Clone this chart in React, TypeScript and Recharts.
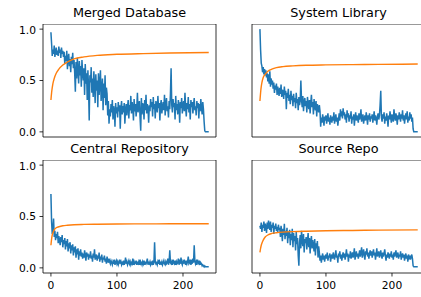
import { Line, LineChart, ReferenceArea, XAxis, YAxis } from "recharts";

const titles = ["Merged Database", "System Library", "Central Repository", "Source Repo"];

// blue series, one value per step 0..239
const mergedDb = [
  0.97, 0.86, 0.74, 0.8, 0.76, 0.84, 0.73, 0.78, 0.82, 0.75,
  0.79, 0.74, 0.83, 0.77, 0.8, 0.72, 0.82, 0.76, 0.79, 0.73,
  0.78, 0.66, 0.74, 0.69, 0.79, 0.61, 0.72, 0.76, 0.64, 0.71,
  0.58, 0.73, 0.66, 0.77, 0.62, 0.7, 0.57, 0.39, 0.68, 0.52,
  0.72, 0.6, 0.47, 0.69, 0.55, 0.64, 0.44, 0.7, 0.58, 0.5,
  0.62, 0.36, 0.66, 0.47, 0.57, 0.31, 0.6, 0.42, 0.11, 0.55,
  0.48, 0.63, 0.38, 0.52, 0.34, 0.59, 0.45, 0.28, 0.56, 0.4,
  0.5, 0.24, 0.57, 0.36, 0.46, 0.6, 0.3, 0.41, 0.52, 0.21,
  0.47, 0.33, 0.55, 0.26, 0.43, 0.37, 0.16, 0.3, 0.08, 0.22,
  0.15, 0.27, 0.19, 0.31, 0.12, 0.25, 0.21, 0.05, 0.28, 0.18,
  0.24, 0.14, 0.29, 0.2, 0.26, 0.03, 0.23, 0.3, 0.17, 0.25,
  0.19, 0.28, 0.08, 0.22, 0.27, 0.16, 0.24, 0.31, 0.13, 0.26,
  0.21, 0.35, 0.18, 0.29, 0.24, 0.11, 0.32, 0.2, 0.27, 0.15,
  0.23, 0.38, 0.19, 0.26, 0.3, 0.14, 0.01, 0.33, 0.17, 0.28,
  0.25, 0.12, 0.31, 0.21, 0.36, 0.18, 0.27, 0.23, 0.09, 0.26,
  0.2, 0.32, 0.24, 0.29, 0.15, 0.34, 0.22, 0.27, 0.13, 0.3,
  0.25, 0.19, 0.35, 0.23, 0.28, 0.11, 0.26, 0.31, 0.18, 0.24,
  0.29, 0.21, 0.36, 0.16, 0.27, 0.33, 0.2, 0.25, 0.14, 0.3,
  0.22, 0.37, 0.62, 0.26, 0.19, 0.32, 0.24, 0.28, 0.12, 0.35,
  0.21, 0.27, 0.17, 0.31, 0.25, 0.09, 0.29, 0.23, 0.33, 0.18,
  0.26, 0.3, 0.2, 0.38, 0.24, 0.15, 0.28, 0.22, 0.34, 0.19,
  0.27, 0.12, 0.31, 0.24, 0.29, 0.18, 0.26, 0.33, 0.21, 0.25,
  0.16, 0.3, 0.23, 0.28, 0.13, 0.27, 0.2, 0.32, 0.24, 0.17,
  0.29, 0.22, 0.1, 0.01, 0.0, 0.0, 0.0, 0.0, 0.0, 0.0,
];

const systemLib = [
  1.0, 0.8, 0.67, 0.64, 0.58, 0.63, 0.56, 0.61, 0.55, 0.6,
  0.53, 0.57, 0.49, 0.56, 0.47, 0.59, 0.44, 0.52, 0.46, 0.5,
  0.42, 0.48, 0.38, 0.45, 0.41, 0.47, 0.36, 0.44, 0.4, 0.35,
  0.43, 0.37, 0.46, 0.34, 0.41, 0.39, 0.32, 0.44, 0.36, 0.4,
  0.22, 0.38, 0.33, 0.42, 0.3, 0.36, 0.27, 0.4, 0.31, 0.35,
  0.25, 0.37, 0.29, 0.33, 0.23, 0.38, 0.28, 0.32, 0.21, 0.34,
  0.26, 0.3, 0.5, 0.31, 0.24, 0.35, 0.2, 0.29, 0.33, 0.25,
  0.3, 0.19, 0.34, 0.27, 0.22, 0.31, 0.18, 0.28, 0.36, 0.24,
  0.29, 0.17, 0.32, 0.25, 0.21, 0.3, 0.15, 0.27, 0.23, 0.19,
  0.26, 0.2, 0.05, 0.14, 0.09, 0.17, 0.12, 0.06, 0.15, 0.11,
  0.16, 0.08, 0.13, 0.18, 0.1, 0.14, 0.07, 0.16, 0.12, 0.09,
  0.15, 0.11, 0.19, 0.08, 0.13, 0.17, 0.1, 0.14, 0.06, 0.12,
  0.18, 0.11, 0.22, 0.15, 0.2, 0.13, 0.23, 0.16, 0.19, 0.12,
  0.17, 0.09, 0.21, 0.14, 0.18, 0.1, 0.16, 0.13, 0.2, 0.08,
  0.15, 0.12, 0.17, 0.06, 0.14, 0.19, 0.11, 0.16, 0.13, 0.09,
  0.18, 0.12, 0.15, 0.22, 0.1, 0.14, 0.17, 0.08, 0.13, 0.16,
  0.11, 0.19, 0.14, 0.07, 0.16, 0.12, 0.18, 0.1, 0.15, 0.13,
  0.17, 0.09, 0.14, 0.2, 0.11, 0.16, 0.13, 0.07, 0.15, 0.18,
  0.12, 0.16, 0.26, 0.4, 0.14, 0.1, 0.17, 0.13, 0.19, 0.08,
  0.15, 0.11, 0.18, 0.13, 0.05, 0.16, 0.12, 0.2, 0.14, 0.09,
  0.17, 0.13, 0.1, 0.22, 0.15, 0.11, 0.18, 0.14, 0.07, 0.16,
  0.12, 0.19, 0.15, 0.1, 0.17, 0.13, 0.21, 0.11, 0.16, 0.08,
  0.14, 0.18, 0.12, 0.2, 0.09, 0.15, 0.11, 0.19, 0.13, 0.17,
  0.1, 0.14, 0.03, 0.0, 0.0, 0.0, 0.0, 0.0, 0.0, 0.0,
];

const centralRepo = [
  0.72, 0.45, 0.33, 0.38, 0.48, 0.3, 0.36, 0.27, 0.33, 0.29,
  0.35, 0.24, 0.31, 0.27, 0.22, 0.3, 0.25, 0.32, 0.2, 0.27,
  0.23, 0.29, 0.18, 0.26, 0.21, 0.28, 0.16, 0.24, 0.19, 0.25,
  0.14, 0.22, 0.17, 0.23, 0.12, 0.2, 0.15, 0.21, 0.1, 0.18,
  0.13, 0.19, 0.08, 0.16, 0.12, 0.18, 0.11, 0.15, 0.09, 0.14,
  0.1, 0.17, 0.12, 0.07, 0.15, 0.11, 0.14, 0.08, 0.13, 0.1,
  0.16, 0.09, 0.12, 0.06, 0.14, 0.1, 0.18, 0.08, 0.11, 0.13,
  0.07, 0.12, 0.09, 0.15, 0.06, 0.11, 0.08, 0.13, 0.05, 0.1,
  0.08, 0.12, 0.06, 0.09, 0.04, 0.11, 0.07, 0.05, 0.09, 0.06,
  0.04, 0.07, 0.05, 0.03, 0.06, 0.04, 0.08, 0.03, 0.05, 0.07,
  0.04, 0.06, 0.03, 0.05, 0.08, 0.04, 0.06, 0.03, 0.05, 0.04,
  0.07, 0.03, 0.05, 0.1, 0.04, 0.06, 0.03, 0.05, 0.07, 0.04,
  0.06, 0.03, 0.05, 0.04, 0.09, 0.03, 0.06, 0.04, 0.05, 0.07,
  0.03, 0.05, 0.04, 0.06, 0.03, 0.08, 0.04, 0.05, 0.03, 0.06,
  0.04, 0.07, 0.03, 0.05, 0.04, 0.06, 0.09, 0.03, 0.05, 0.04,
  0.06, 0.03, 0.05, 0.04, 0.07, 0.03, 0.05, 0.25, 0.06, 0.04,
  0.05, 0.03, 0.06, 0.04, 0.08, 0.03, 0.05, 0.04, 0.06, 0.03,
  0.05, 0.07, 0.04, 0.03, 0.06, 0.04, 0.05, 0.09, 0.03, 0.06,
  0.17, 0.05, 0.04, 0.06, 0.03, 0.08, 0.05, 0.04, 0.07, 0.03,
  0.06, 0.04, 0.05, 0.09, 0.03, 0.06, 0.04, 0.1, 0.05, 0.03,
  0.06, 0.04, 0.08, 0.05, 0.03, 0.07, 0.04, 0.06, 0.11, 0.04,
  0.05, 0.08, 0.03, 0.06, 0.04, 0.09, 0.05, 0.22, 0.07, 0.04,
  0.06, 0.03, 0.08, 0.05, 0.04, 0.07, 0.03, 0.05, 0.04, 0.02,
  0.03, 0.02, 0.01, 0.02, 0.01, 0.01, 0.01, 0.01, 0.01, 0.01,
];

const sourceRepo = [
  0.41, 0.38, 0.44, 0.35, 0.42, 0.39, 0.45, 0.36, 0.43, 0.4,
  0.34, 0.44, 0.38, 0.46, 0.41, 0.37, 0.45, 0.35, 0.42, 0.39,
  0.44, 0.33, 0.41, 0.38, 0.43, 0.36, 0.4, 0.34, 0.42, 0.37,
  0.39, 0.3, 0.41, 0.35, 0.26, 0.38, 0.32, 0.43, 0.28, 0.36,
  0.31, 0.39, 0.24, 0.35, 0.29, 0.37, 0.22, 0.33, 0.27, 0.38,
  0.2, 0.34, 0.26, 0.31, 0.17, 0.35, 0.23, 0.29, 0.12, 0.02,
  0.25, 0.32, 0.19, 0.36, 0.27, 0.21, 0.33, 0.15, 0.28, 0.24,
  0.3, 0.18, 0.26, 0.34, 0.2, 0.29, 0.14, 0.25, 0.31, 0.19,
  0.27, 0.22, 0.16, 0.28, 0.12, 0.24, 0.19, 0.26, 0.1, 0.21,
  0.15, 0.07, 0.12, 0.05, 0.1, 0.14, 0.08, 0.12, 0.06, 0.11,
  0.13, 0.09, 0.15, 0.07, 0.12, 0.1, 0.14, 0.06, 0.11, 0.13,
  0.09, 0.15, 0.11, 0.08, 0.13, 0.17, 0.1, 0.12, 0.05, 0.14,
  0.11, 0.16, 0.09, 0.13, 0.07, 0.12, 0.15, 0.1, 0.14, 0.08,
  0.12, 0.18, 0.11, 0.14, 0.06, 0.13, 0.1, 0.16, 0.09, 0.12,
  0.15, 0.1, 0.13, 0.19, 0.08, 0.12, 0.16, 0.11, 0.14, 0.09,
  0.13, 0.17, 0.11, 0.15, 0.2, 0.1, 0.14, 0.18, 0.12, 0.08,
  0.16, 0.13, 0.19, 0.11, 0.15, 0.09, 0.14, 0.17, 0.12, 0.16,
  0.1, 0.14, 0.18, 0.12, 0.15, 0.08, 0.13, 0.19, 0.11, 0.14,
  0.16, 0.1, 0.13, 0.17, 0.12, 0.09, 0.15, 0.11, 0.14, 0.18,
  0.12, 0.07, 0.13, 0.1, 0.15, 0.12, 0.09, 0.14, 0.11, 0.16,
  0.1, 0.13, 0.08, 0.15, 0.11, 0.14, 0.17, 0.1, 0.12, 0.15,
  0.09, 0.13, 0.11, 0.16, 0.08, 0.12, 0.14, 0.1, 0.13, 0.07,
  0.11, 0.14, 0.09, 0.12, 0.06, 0.13, 0.1, 0.12, 0.08, 0.11,
  0.13, 0.09, 0.02, 0.01, 0.01, 0.01, 0.01, 0.01, 0.01, 0.01,
];

// orange curves, sampled at these steps
const curveSteps = [0, 1, 2, 3, 5, 8, 12, 18, 25, 35, 50, 70, 100, 140, 180, 239];
const mergedCurve = [0.31, 0.38, 0.43, 0.47, 0.52, 0.57, 0.61, 0.65, 0.68, 0.71, 0.73, 0.745, 0.755, 0.762, 0.767, 0.772];
const systemCurve = [0.3, 0.38, 0.44, 0.48, 0.53, 0.56, 0.59, 0.61, 0.625, 0.635, 0.642, 0.648, 0.652, 0.655, 0.657, 0.66];
const centralCurve = [0.22, 0.28, 0.32, 0.34, 0.37, 0.39, 0.4, 0.41, 0.415, 0.42, 0.423, 0.425, 0.427, 0.428, 0.429, 0.43];
const sourceCurve = [0.15, 0.19, 0.22, 0.24, 0.27, 0.3, 0.32, 0.335, 0.342, 0.348, 0.353, 0.357, 0.361, 0.364, 0.367, 0.37];

const xTicks = [0, 100, 200];
const yTicks = [0, 0.5, 1];

const X_DOMAIN: [number, number] = [-12, 250];
const Y_DOMAIN: [number, number] = [-0.05, 1.05];

const PLOT_W = 173;
const PLOT_H = 113;
const AXIS_W = 43;
const AXIS_H = 25;

const toPoints = (vals: number[]) => vals.map((y, x) => ({ x, y }));
const toCurve = (vals: number[]) => vals.map((y, i) => ({ x: curveSteps[i], y }));

interface PanelProps {
  title: string;
  series: number[];
  curve: number[];
  left: number;
  top: number;
  xLabels: boolean;
  yLabels: boolean;
}

function Panel({ title, series, curve, left, top, xLabels, yLabels }: PanelProps) {
  const tickStyle = { fontSize: 10.7, fill: "#000" };
  return (
    <>
      <div
        style={{
          position: "absolute",
          left: left,
          top: top - 19,
          width: PLOT_W,
          textAlign: "center",
          fontSize: 12.8,
          lineHeight: "15px",
          color: "#000",
          whiteSpace: "nowrap",
        }}
      >
        {title}
      </div>
      <div style={{ position: "absolute", left: left - AXIS_W, top: top }}>
        <LineChart
          width={AXIS_W + PLOT_W + 10}
          height={PLOT_H + AXIS_H}
          margin={{ top: 0, right: 10, bottom: 0, left: 0 }}
        >
          <XAxis
            type="number"
            dataKey="x"
            domain={X_DOMAIN}
            allowDataOverflow
            ticks={xTicks}
            height={AXIS_H}
            tickSize={3.5}
            tickMargin={4.5}
            tick={xLabels ? tickStyle : false}
            tickLine={{ stroke: "#000", strokeWidth: 0.8 }}
            axisLine={false}
          />
          <YAxis
            type="number"
            domain={Y_DOMAIN}
            allowDataOverflow
            ticks={yTicks}
            width={AXIS_W}
            tickSize={3.5}
            tickMargin={3.5}
            tick={yLabels ? tickStyle : false}
            tickFormatter={(v: number) => v.toFixed(1)}
            tickLine={{ stroke: "#000", strokeWidth: 0.8 }}
            axisLine={false}
          />
          <Line
            data={toPoints(series)}
            dataKey="y"
            type="linear"
            stroke="#1f77b4"
            strokeWidth={1.5}
            dot={false}
            isAnimationActive={false}
          />
          <Line
            data={toCurve(curve)}
            dataKey="y"
            type="monotone"
            stroke="#ff7f0e"
            strokeWidth={1.4}
            dot={false}
            isAnimationActive={false}
          />
          <ReferenceArea
            x1={X_DOMAIN[0]}
            x2={X_DOMAIN[1]}
            y1={Y_DOMAIN[0]}
            y2={Y_DOMAIN[1]}
            fill="none"
            fillOpacity={0}
            stroke="#000"
            strokeWidth={0.8}
            ifOverflow="visible"
          />
        </LineChart>
      </div>
    </>
  );
}

export default function App() {
  return (
    <div
      style={{
        position: "absolute",
        left: 0,
        top: 0,
        width: 421,
        height: 297,
        overflow: "hidden",
        background: "#fff",
        fontFamily: "'DejaVu Sans', sans-serif",
      }}
    >
      <Panel title={titles[0]} series={mergedDb} curve={mergedCurve} left={43} top={24} xLabels={false} yLabels />
      <Panel title={titles[1]} series={systemLib} curve={systemCurve} left={252} top={24} xLabels={false} yLabels={false} />
      <Panel title={titles[2]} series={centralRepo} curve={centralCurve} left={43} top={160} xLabels yLabels />
      <Panel title={titles[3]} series={sourceRepo} curve={sourceCurve} left={252} top={160} xLabels yLabels={false} />
    </div>
  );
}
